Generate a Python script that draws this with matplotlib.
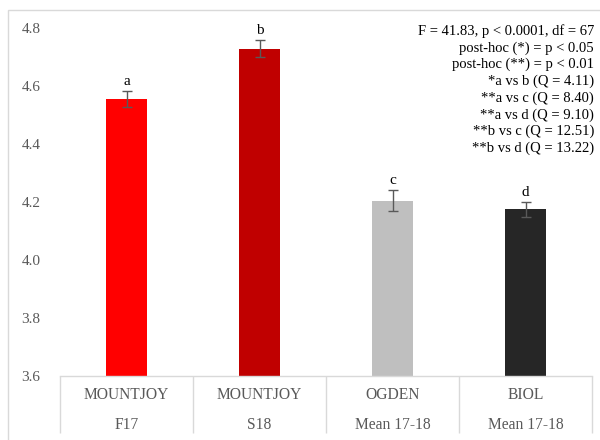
import matplotlib
matplotlib.use("Agg")
import matplotlib.pyplot as plt
import matplotlib.transforms as mtransforms
from matplotlib.patches import Rectangle

# group means and standard errors
groups = ["MOUNTJOY", "MOUNTJOY", "OGDEN", "BIOL"]
terms = ["F17", "S18", "Mean 17-18", "Mean 17-18"]
means = [4.556, 4.729, 4.205, 4.175]
errors = [0.027, 0.029, 0.037, 0.026]
letters = ["a", "b", "c", "d"]
colors = ["#FF0000", "#C00000", "#BFBFBF", "#262626"]
yticks = [3.6, 3.8, 4.0, 4.2, 4.4, 4.6, 4.8]

stats_lines = [
    "F = 41.83, p < 0.0001, df = 67",
    "post-hoc (*) = p < 0.05",
    "post-hoc (**) = p < 0.01",
    "*a vs b (Q = 4.11)",
    "**a vs c (Q = 8.40)",
    "**a vs d (Q = 9.10)",
    "**b vs c (Q = 12.51)",
    "**b vs d (Q = 13.22)",
]

plt.rcParams["font.family"] = ["Liberation Serif", "DejaVu Serif"]
grey = "#595959"
line_grey = "#D9D9D9"

fig = plt.figure(figsize=(6, 4.4), dpi=100)
ax = fig.add_axes([60 / 600, 1 - 376 / 440, 532 / 600, 348 / 440])

# chart area border
fig.patches.append(Rectangle((8 / 600, -0.1), 1.0, (430 / 440) + 0.1,
                             transform=fig.transFigure, fill=False,
                             edgecolor=line_grey, linewidth=1.0))

x = list(range(len(means)))
ax.bar(x, means, width=0.31, color=colors, zorder=2)
ax.errorbar(x, means, yerr=errors, fmt="none", ecolor=grey, elinewidth=1.0,
            capsize=3.5, capthick=1.0, zorder=3)

for xi, m, e, lab in zip(x, means, errors, letters):
    ax.annotate(lab, (xi, m + e), xytext=(0, 2), textcoords="offset points",
                ha="center", va="bottom", fontsize=11, color="black")

ax.set_xlim(-0.5, len(means) - 0.5)
ax.set_ylim(3.6, 4.8)
ax.set_yticks(yticks)
ax.set_yticklabels([f"{t:.1f}" for t in yticks])
ax.tick_params(axis="y", length=0, pad=14, labelsize=11, labelcolor=grey)
ax.set_xticks([])

for side in ["top", "right", "left"]:
    ax.spines[side].set_visible(False)
ax.spines["bottom"].set_color(line_grey)
ax.spines["bottom"].set_linewidth(1.0)

# two-level category table under the axis
trans = mtransforms.blended_transform_factory(ax.transData, ax.transAxes)
bounds = [i - 0.5 for i in range(len(means) + 1)]
ax.vlines(bounds, -57 / 348, 0, transform=trans, colors=line_grey,
          linewidth=1.0, clip_on=False)
for xi, g, t in zip(x, groups, terms):
    ax.text(xi, -19 / 348, g, transform=trans, ha="center", va="center",
            fontsize=11.2, color=grey)
    ax.text(xi, -49 / 348, t, transform=trans, ha="center", va="center",
            fontsize=11.2, color=grey)

fig.text(594 / 600, 1 - 24 / 440, "\n".join(stats_lines), ha="right", va="top",
         fontsize=10.5, linespacing=1.32, color="black", multialignment="right")

fig.savefig("out.png", dpi=100)
